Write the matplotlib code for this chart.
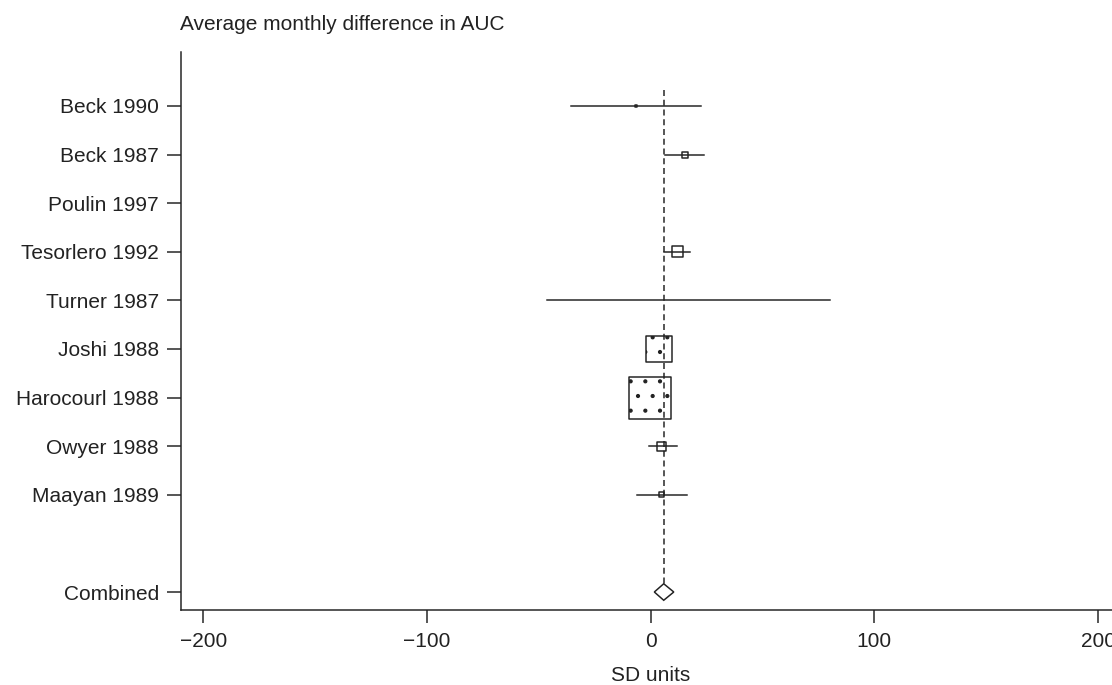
import matplotlib
matplotlib.use("Agg")
import matplotlib.pyplot as plt
from matplotlib.patches import Polygon

plt.rcParams['font.family'] = ['Liberation Sans', 'DejaVu Sans']

studies = ["Beck 1990", "Beck 1987", "Poulin 1997", "Tesorlero 1992", "Turner 1987",
           "Joshi 1988", "Harocourl 1988", "Owyer 1988", "Maayan 1989"]
est = [-6.4, 15.4, None, 12.0, 17.0, 3.5, -0.2, 5.0, 5.0]
lo = [-35.8, 6.3, None, 5.8, -46.5, 1.5, -1.6, -1.0, -6.0]
hi = [22.4, 23.6, None, 17.7, 80.0, 5.6, 1.3, 11.8, 16.3]
box_px = [2, 6, 0, 11, 0, 26, 42, 9, 5]  # box width in pixels
combined_est = 5.8
combined_lo = 1.6
combined_hi = 10.3
xticks = [-200, -100, 0, 100, 200]

# dpi 88 so the '.' hatch spacing matches the stipple in the original
DPI = 88
PX = 72.0 / DPI  # points per pixel
ink = "#222222"
fs = 15 * 100 / DPI  # ~15pt as seen at 100 dpi
lw = 1.5 * PX

fig = plt.figure(figsize=(1112 / DPI, 685 / DPI), dpi=DPI)
ax = fig.add_axes([0.1628, 0.1095, 0.8448, 0.8146])

rows = list(range(1, len(studies) + 1))
comb_row = len(studies) + 2

for r, e, l, h, b in zip(rows, est, lo, hi, box_px):
    if e is None:
        continue
    ax.plot([l, h], [r, r], color=ink, lw=lw, zorder=2)
    if b == 0:
        continue
    hatch = '.' if b > 20 else None
    ax.scatter([e], [r], marker='s', s=(b * PX) ** 2, facecolor='white' if hatch else 'none',
               edgecolor=ink, linewidth=lw, hatch=hatch, zorder=3)

# combined diamond
dh = 0.17
diamond = Polygon([[combined_lo, comb_row], [combined_est, comb_row - dh],
                   [combined_hi, comb_row], [combined_est, comb_row + dh]],
                  closed=True, facecolor='white', edgecolor=ink, lw=lw, zorder=3)
ax.add_patch(diamond)

ax.plot([combined_est, combined_est], [0.67, comb_row - dh], color=ink,
        lw=lw, ls=(0, (4, 2.5)), zorder=4)

ax.set_xlim(-210, 210)
ax.set_ylim(11.37, -0.11)
ax.set_yticks(rows + [comb_row])
ax.set_yticklabels(studies + ["Combined"])
ax.set_xticks(xticks)
ax.set_xticklabels([f"{t:d}".replace('-', '\u2212') for t in xticks])
ax.tick_params(axis='y', length=14 * PX, width=lw, color=ink, labelsize=fs,
               labelcolor=ink, pad=8 * PX)
ax.tick_params(axis='x', length=13 * PX, width=lw, color=ink, labelsize=fs,
               labelcolor=ink, pad=9 * PX)
for side in ['top', 'right']:
    ax.spines[side].set_visible(False)
for side in ['left', 'bottom']:
    ax.spines[side].set_color(ink)
    ax.spines[side].set_linewidth(lw)

ax.set_xlabel("SD units", fontsize=fs, color=ink, labelpad=15 * PX)
fig.text(0.1619, 1 - 25 / 685, "Average monthly difference in AUC", fontsize=fs,
         color=ink, ha='left', va='center')

fig.savefig("out.png", dpi=DPI)
